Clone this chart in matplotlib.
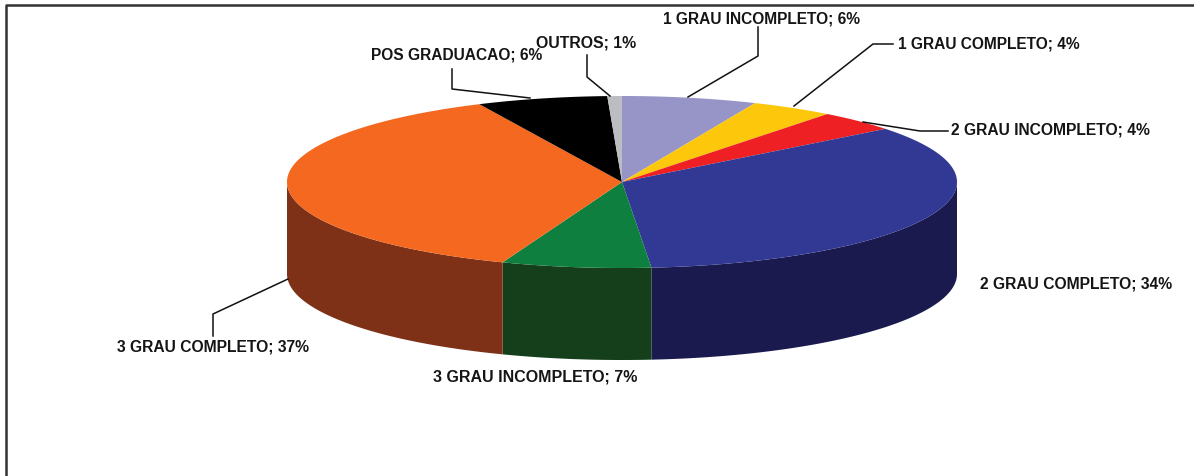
import numpy as np
import matplotlib
matplotlib.use('Agg')
import matplotlib.pyplot as plt

# slices clockwise from the top of the pie
labels = ['1 GRAU INCOMPLETO; 6%', '1 GRAU COMPLETO; 4%', '2 GRAU INCOMPLETO; 4%',
          '2 GRAU COMPLETO; 34%', '3 GRAU INCOMPLETO; 7%', '3 GRAU COMPLETO; 37%',
          'POS GRADUACAO; 6%', 'OUTROS; 1%']
shares = [6.5, 4.0, 3.9, 34.2, 7.2, 37.2, 6.3, 0.7]
top_colors = ['#9795c8', '#fdc70c', '#ee2024', '#313995', '#0e7f3f', '#f56820', '#000000', '#bcbdc0']
side_colors = ['#6f6d94', '#b8910a', '#a8181a', '#1b1a4f', '#143f1a', '#7e3117', '#000000', '#8a8a8c']

label_x = [663, 898, 951, 980, 433, 117, 371, 536]
label_y = [19, 44, 130, 284, 377, 347, 55, 43]
label_w = [199, 183, 200, 193, 204, 193, 172, 101]

leader_x = [[688, 758, 758], [794, 873, 893], [863, 920, 948], None, None,
            [288, 213, 213], [530, 452, 452], [610, 587, 587]]
leader_y = [[98, 57, 28], [107, 45, 45], [123, 132, 132], None, None,
            [280, 315, 337], [99, 90, 70], [97, 78, 56]]

cx, cy, rx, ry, depth = 622, 183, 335, 86, 92

fig = plt.figure(figsize=(11.94, 4.77), dpi=100)
ax = fig.add_axes([0, 0, 1, 1])
ax.set_xlim(0, 1194)
ax.set_ylim(477, 0)
ax.axis('off')

# frame of the original picture
ax.plot([6, 6, 1194], [477, 6, 6], color='#333333', lw=1.8)

def ell(a):
    return cx + rx * np.sin(a), cy - ry * np.cos(a)

edges = np.radians(np.cumsum([0] + shares) / sum(shares) * 360)

# side wall, only the front half shows
for i in range(len(shares)):
    a0 = max(edges[i], np.pi / 2)
    a1 = min(edges[i + 1], 3 * np.pi / 2)
    if a1 <= a0:
        continue
    a = np.linspace(a0, a1, 100)
    x, y = ell(a)
    ax.fill(np.r_[x, x[::-1]], np.r_[y, y[::-1] + depth], color=side_colors[i], lw=0)

# top face
for i in range(len(shares)):
    a = np.linspace(edges[i], edges[i + 1], 200)
    x, y = ell(a)
    ax.fill(np.r_[cx, x], np.r_[cy, y], color=top_colors[i], lw=0)

for lx, ly in zip(leader_x, leader_y):
    if lx:
        ax.plot(lx, ly, color='#111111', lw=1.1)

# fit each label to the width it has in the picture
r = fig.canvas.get_renderer()
for t, x, y, w in zip(labels, label_x, label_y, label_w):
    txt = ax.text(x, y, t, fontsize=9, family='Liberation Sans', weight='bold',
                  color='#151515', va='center', ha='left')
    txt.set_fontsize(9 * w / txt.get_window_extent(r).width)

fig.savefig('out.png', dpi=100)
